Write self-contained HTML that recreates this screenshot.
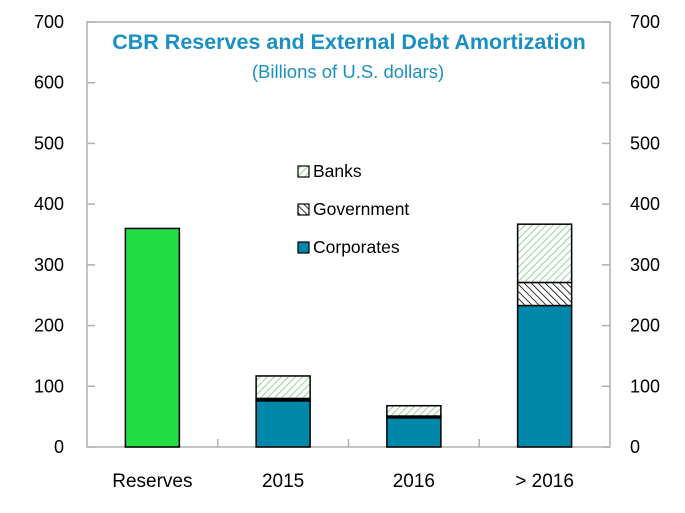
<!DOCTYPE html>
<html><head><meta charset="utf-8">
<style>
html,body{margin:0;padding:0;background:#fff;}
svg{display:block;font-family:"Liberation Sans",sans-serif;}
</style></head>
<body>
<svg id="chart" width="685" height="513" viewBox="0 0 685 513">
<defs>
<pattern id="hBanks" patternUnits="userSpaceOnUse" width="5" height="5" patternTransform="rotate(45)">
<rect width="5" height="5" fill="#fff"/><line x1="0" y1="0" x2="0" y2="5" stroke="#7cc77c" stroke-width="1.6"/></pattern>
<pattern id="hGov" patternUnits="userSpaceOnUse" width="5" height="5" patternTransform="rotate(-45)">
<rect width="5" height="5" fill="#fff"/><line x1="0" y1="0" x2="0" y2="5" stroke="#000" stroke-width="1.6"/></pattern>
</defs>
<g id="plot"></g>
</svg>
<script>
const categories = ["Reserves", "2015", "2016", "> 2016"];
const reserves = [360, 0, 0, 0];
const corporates = [0, 76, 48, 233];
const government = [0, 4, 3, 38];
const banks = [0, 37, 17, 96];
const ticks = [0, 100, 200, 300, 400, 500, 600, 700];

const NS = "http://www.w3.org/2000/svg";
const X0 = 87, X1 = 610, Y0 = 447, Y1 = 22, YMAX = 700;
const band = (X1 - X0) / categories.length;
const bw = 54;
const y = v => Y0 - (v / YMAX) * (Y0 - Y1);
const xc = i => X0 + band * (i + 0.5);
const g = document.getElementById("plot");
function mk(tag, attrs, text) {
  const e = document.createElementNS(NS, tag);
  for (const k in attrs) e.setAttribute(k, attrs[k]);
  if (text !== undefined) e.textContent = text;
  g.appendChild(e);
  return e;
}

let f = mk("rect", {x: X0, y: Y1, width: X1 - X0, height: Y0 - Y1, fill: "none", stroke: "#b0b0b0", "stroke-width": 1.5});



ticks.forEach(t => {
  const yy = y(t);
  let l = mk("line", {x1: X0, x2: X0 + 8, y1: yy, y2: yy, stroke: "#b0b0b0", "stroke-width": 1.5});
  
  
  let r = mk("line", {x1: X1 - 8, x2: X1, y1: yy, y2: yy, stroke: "#b0b0b0", "stroke-width": 1.5});
  
  
  let a = mk("text", {x: 64, y: yy + 6, "text-anchor": "end", "font-size": 18, fill: "#000"}, t);
  
  
  let b = mk("text", {x: 630, y: yy + 6, "text-anchor": "start", "font-size": 18, fill: "#000"}, t);
  
  
});
for (let i = 1; i < categories.length; i++) {
  const xx = X0 + band * i;
  let l = mk("line", {x1: xx, x2: xx, y1: Y0, y2: Y0 - 8, stroke: "#b0b0b0", "stroke-width": 1.5});
  
  
}

categories.forEach((c, i) => {
  const x = xc(i) - bw / 2;
  if (reserves[i] > 0) {
    let r = mk("rect", {x: x, y: y(reserves[i]), width: bw, height: Y0 - y(reserves[i]), fill: "#22dd44", stroke: "#000", "stroke-width": 1.5});
    
    
  }
  let base = 0;
  [[corporates, "#0088aa", "bar-corporates"], [government, "url(#hGov)", "bar-government"], [banks, "url(#hBanks)", "bar-banks"]].forEach(([arr, fill, name]) => {
    const v = arr[i];
    if (v > 0) {
      const h = y(base) - y(base + v);
      let r = mk("rect", {x: x, y: y(base + v), width: bw, height: h, fill: h < 5 ? "#000" : fill, stroke: "#000", "stroke-width": 1.5});
      
      
    }
    base += v;
  });
  let t = mk("text", {x: xc(i), y: 487, "text-anchor": "middle", "font-size": 19, fill: "#000"}, c);
  
  
});

[["Banks", "url(#hBanks)", 171], ["Government", "url(#hGov)", 209], ["Corporates", "#0088aa", 247]].forEach(([n, fill, yy]) => {
  let r = mk("rect", {x: 298, y: yy - 5, width: 11, height: 11, fill: fill, stroke: "#000", "stroke-width": 1.2});
  
  
  let t = mk("text", {x: 313, y: yy + 6, "font-size": 17.5, fill: "#000"}, n);
  
  
});

let ti = mk("text", {x: 349, y: 49, "text-anchor": "middle", "font-size": 21.5, "font-weight": "bold", fill: "#1a8fc4"}, "CBR Reserves and External Debt Amortization");


let st = mk("text", {x: 348, y: 78, "text-anchor": "middle", "font-size": 18.5, fill: "#1a8fc4"}, "(Billions of U.S. dollars)");


</script>
</body></html>
